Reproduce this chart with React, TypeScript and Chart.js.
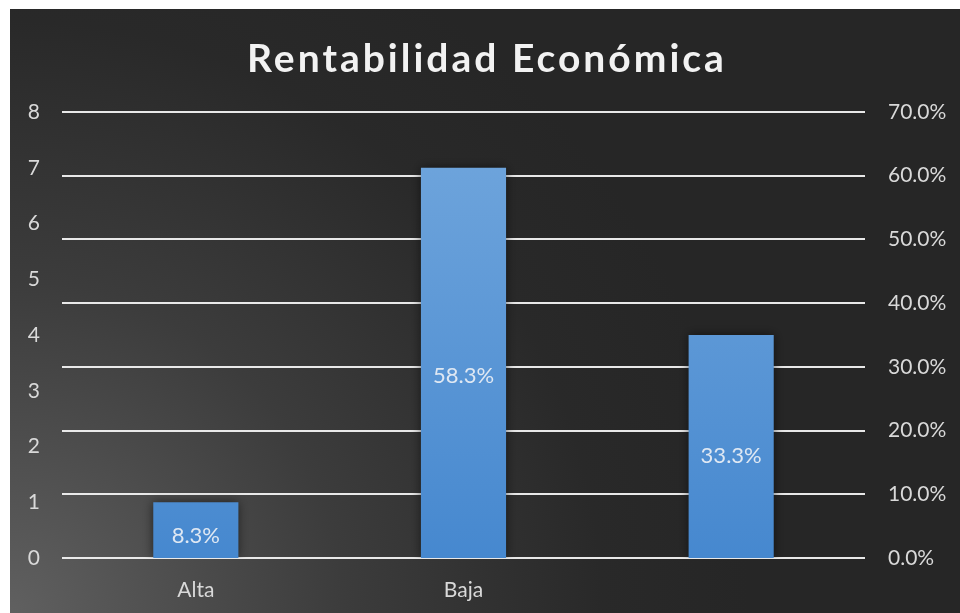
import React, { useEffect, useRef } from "react";
import { Chart, registerables } from "chart.js";

Chart.register(...registerables);

const TITLE = "Rentabilidad Económica";
const categories = ["Alta", "Baja", ""];
const counts = [1, 7, 4];
const percents = [0.083, 0.583, 0.333];
const percentLabels = ["8.3%", "58.3%", "33.3%"];
const leftTicks = [0, 1, 2, 3, 4, 5, 6, 7, 8];
const rightMax = 0.7;

const FONT = "Lato, 'Open Sans', sans-serif";

const bgPlugin = {
  id: "bgPlugin",
  beforeDraw(chart: any) {
    const { ctx, width, height } = chart;
    ctx.save();
    const g = ctx.createRadialGradient(0, height, 0, 0, height, 740);
    g.addColorStop(0, "#606060");
    g.addColorStop(0.45, "#3c3c3c");
    g.addColorStop(0.8, "#292929");
    g.addColorStop(1, "#262626");
    ctx.fillStyle = "#262626";
    ctx.fillRect(0, 0, width, height);
    ctx.fillStyle = g;
    ctx.fillRect(0, 0, width, height);
    // title
    ctx.fillStyle = "#f2f2f2";
    ctx.font = `bold 39px ${FONT}`;
    (ctx as any).letterSpacing = "3px";
    ctx.textAlign = "center";
    ctx.textBaseline = "middle";
    ctx.fillText(TITLE, width / 2 + 2, 50);
    ctx.restore();
  },
  beforeDatasetsDraw(chart: any) {
    const ctx = chart.ctx;
    ctx.save();
    ctx.shadowColor = "rgba(0,0,0,0.55)";
    ctx.shadowBlur = 10;
    ctx.shadowOffsetX = 0;
    ctx.shadowOffsetY = 0;
  },
  afterDatasetsDraw(chart: any) {
    const ctx = chart.ctx;
    ctx.restore();
    const meta = chart.getDatasetMeta(0);
    const y1 = chart.scales.y1;
    ctx.save();
    ctx.fillStyle = "#dfe8f3";
    ctx.font = `22px ${FONT}`;
    ctx.textAlign = "center";
    ctx.textBaseline = "middle";
    meta.data.forEach((bar: any, i: number) => {
      const y = y1.getPixelForValue(percents[i] / 2) + 4;
      ctx.fillText(percentLabels[i], bar.x, y);
    });
    ctx.restore();
  },
};

export default function App() {
  const ref = useRef<HTMLCanvasElement>(null);
  useEffect(() => {
    if (!ref.current) return;
    const chart = new Chart(ref.current, {
      type: "bar",
      data: {
        labels: categories,
        datasets: [
          {
            data: counts,
            yAxisID: "y",
            backgroundColor: (c: any) => {
              const area = c.chart.chartArea;
              if (!area) return "#5b97d6";
              const g = c.chart.ctx.createLinearGradient(0, area.top, 0, area.bottom);
              g.addColorStop(0, "#72a7dd");
              g.addColorStop(1, "#4688cf");
              return g;
            },
            borderWidth: 0,
            categoryPercentage: 1,
            barPercentage: 0.318,
          },
        ],
      },
      options: {
        responsive: false,
        animation: false,
        layout: { padding: { top: 103, left: 0, right: 0, bottom: 0 } },
        plugins: {
          legend: { display: false },
          tooltip: { enabled: false },
          title: { display: false },
        },
        scales: {
          x: {
            grid: { display: false, drawTicks: false },
            border: { display: false },
            ticks: {
              color: "#d9d9d9",
              font: { family: FONT, size: 21 },
              padding: 20,
            },
            afterFit: (s: any) => {
              s.height = 55;
            },
          },
          y: {
            position: "left",
            min: 0,
            max: leftTicks[leftTicks.length - 1],
            grid: { display: false, drawTicks: false },
            border: { display: false },
            afterBuildTicks: (s: any) => {
              s.ticks = leftTicks.map((v) => ({ value: v }));
            },
            ticks: {
              color: "#d9d9d9",
              font: { family: FONT, size: 21 },
              padding: 22,
            },
            afterFit: (s: any) => {
              s.width = 52;
            },
          },
          y1: {
            position: "right",
            min: 0,
            max: rightMax,
            grid: {
              drawTicks: false,
              color: "rgba(242,242,242,0.95)",
              lineWidth: 2,
            },
            border: { display: false },
            ticks: {
              stepSize: 0.1,
              color: "#d9d9d9",
              font: { family: FONT, size: 21 },
              padding: 23,
              callback: (v: any) => (Number(v) * 100).toFixed(1) + "%",
            },
            afterFit: (s: any) => {
              s.width = 95;
            },
          },
        },
      },
      plugins: [bgPlugin],
    });
    return () => chart.destroy();
  }, []);
  return (
    <div style={{ position: "absolute", left: 10, top: 9, width: 950, height: 604 }}>
      <canvas ref={ref} width={950} height={604} />
    </div>
  );
}
